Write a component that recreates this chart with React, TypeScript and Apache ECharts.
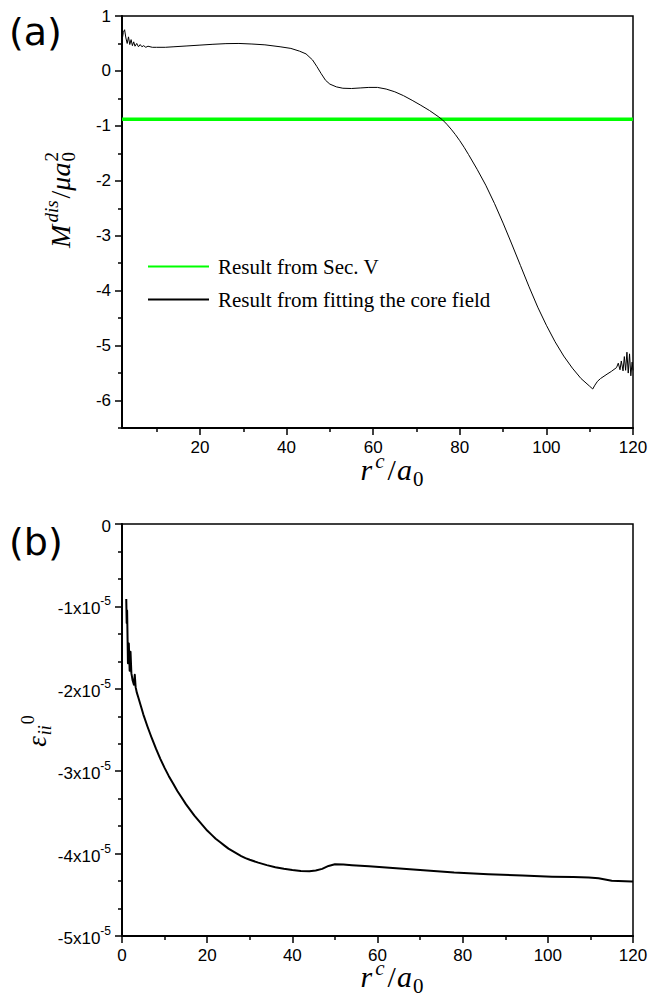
import React, { useEffect, useRef } from "react";
import * as echarts from "echarts";

// ---------- Panel (a): M^dis vs r^c ----------
const rA = [
  2.0, 2.3, 2.6, 2.9, 3.2, 3.5, 3.8, 4.1, 4.4, 4.7, 5.0, 5.4, 5.8, 6.2, 6.6, 7.0, 7.5, 8.0, 9, 10, 12, 14, 17,
  20, 23, 26, 29, 32, 35, 38.5, 41, 43, 44.5, 46, 47, 48, 49, 50, 51.5, 53, 55, 57, 59, 61, 63, 65, 67, 69,
  71, 73, 75, 76, 77, 78, 79, 80, 81, 82, 84, 86, 88, 90, 92, 94, 96, 98, 100, 102, 104, 106, 108,
  110, 110.7, 111.2, 111.8, 112.5, 114, 115, 116.2, 116.6, 117, 117.3, 117.7, 118, 118.3, 118.6, 118.9,
  119.2, 119.5, 119.8, 120,
];
const mDis = [
  0.55, 0.7, 0.75, 0.6, 0.5, 0.62, 0.48, 0.57, 0.46, 0.53, 0.45, 0.5, 0.44, 0.48, 0.44, 0.46, 0.43, 0.45, 0.43,
  0.43, 0.43, 0.44, 0.455, 0.47, 0.485, 0.497, 0.5, 0.49, 0.475, 0.44, 0.41, 0.36, 0.31, 0.2, 0.08, -0.05,
  -0.17, -0.24, -0.29, -0.315, -0.32, -0.31, -0.3, -0.3, -0.33, -0.38, -0.45, -0.535, -0.625, -0.72, -0.83,
  -0.89, -0.97, -1.06, -1.16, -1.27, -1.39, -1.52, -1.79, -2.08, -2.41, -2.77, -3.15, -3.54, -3.93, -4.3,
  -4.63, -4.93, -5.19, -5.41, -5.6, -5.74, -5.79, -5.72, -5.65, -5.6, -5.52, -5.47, -5.4, -5.32, -5.44,
  -5.28, -5.46, -5.2, -5.45, -5.12, -5.5, -5.15, -5.55, -5.3, -5.45,
];
const secVValue = -0.88;
const xRangeA = [2, 120];
const yRangeA = [-6.5, 1];
const xTicksA = [20, 40, 60, 80, 100, 120];
const xMinorA = [10, 30, 50, 70, 90, 110];
const yTicksA = [1, 0, -1, -2, -3, -4, -5, -6];
const yMinorA = [0.5, -0.5, -1.5, -2.5, -3.5, -4.5, -5.5, -6.5];
const legendNames = ["Result from Sec. V", "Result from fitting the core field"];

// ---------- Panel (b): eps_ii^0 vs r^c ----------
const rB = [
  1.0, 1.1, 1.2, 1.4, 1.6, 1.8, 2.0, 2.2, 2.5, 2.8, 3.0, 3.2, 3.5, 3.8, 4.5, 5, 6, 7, 8, 9, 10, 11, 12, 13, 14,
  15, 16, 17, 18, 19, 20, 21, 22, 23, 24, 25, 26, 27, 28, 29, 30, 32, 34, 36, 38, 40, 42, 44, 45.5, 47, 48.5,
  50, 52, 54, 58, 62, 66, 70, 78, 86, 94, 101, 106, 109.6, 111.9, 115, 119.7, 120,
];
const epsB = [
  -0.91e-5, -1.2e-5, -1.05e-5, -1.69e-5, -1.45e-5, -1.78e-5, -1.55e-5, -1.81e-5, -1.9e-5, -1.95e-5, -1.83e-5,
  -1.98e-5, -2.05e-5, -2.1e-5, -2.22e-5, -2.31e-5, -2.46e-5, -2.6e-5, -2.73e-5, -2.85e-5, -2.96e-5, -3.06e-5,
  -3.15e-5, -3.24e-5, -3.32e-5, -3.4e-5, -3.47e-5, -3.54e-5, -3.6e-5, -3.66e-5, -3.72e-5, -3.77e-5, -3.82e-5,
  -3.86e-5, -3.9e-5, -3.94e-5, -3.97e-5, -4.0e-5, -4.03e-5, -4.055e-5, -4.075e-5, -4.11e-5, -4.14e-5,
  -4.165e-5, -4.185e-5, -4.2e-5, -4.21e-5, -4.215e-5, -4.205e-5, -4.185e-5, -4.15e-5, -4.13e-5, -4.132e-5,
  -4.14e-5, -4.155e-5, -4.17e-5, -4.185e-5, -4.2e-5, -4.23e-5, -4.25e-5, -4.265e-5, -4.28e-5, -4.285e-5,
  -4.29e-5, -4.3e-5, -4.33e-5, -4.34e-5, -4.34e-5,
];
const xRangeB = [0, 120];
const yRangeB = [-5e-5, 0];
const xTicksB = [0, 20, 40, 60, 80, 100, 120];
const xMinorB = [10, 30, 50, 70, 90, 110];
const yTicksB = [0, -1e-5, -2e-5, -3e-5, -4e-5, -5e-5];

const LABEL_FONT = "Liberation Sans";
const MATH_FONT = "Liberation Serif";

type Piece = { t: string; size: number; italic?: boolean; dy?: number; stack?: boolean; gap?: number };

let ctx: CanvasRenderingContext2D | null = null;
function measure(t: string, size: number, italic?: boolean) {
  if (!ctx) ctx = document.createElement("canvas").getContext("2d");
  if (!ctx) return t.length * size * 0.5;
  ctx.font = `${italic ? "italic " : ""}${size}px "${MATH_FONT}"`;
  return ctx.measureText(t).width;
}

function mathRun(pieces: Piece[]) {
  const children: any[] = [];
  let x = 0;
  let prevStart = 0;
  for (const p of pieces) {
    const w = measure(p.t, p.size, p.italic);
    let px: number;
    if (p.stack) {
      px = prevStart;
      x = Math.max(x, px + w);
    } else {
      px = x + (p.gap || 0);
      x = px + w;
      prevStart = px;
    }
    children.push({
      type: "text",
      x: px,
      y: (p.dy || 0) - 0.35 * p.size,
      silent: true,
      style: {
        text: p.t,
        fontSize: p.size,
        fontFamily: MATH_FONT,
        fontStyle: p.italic ? "italic" : "normal",
        fill: "#000",
        align: "left",
        verticalAlign: "middle",
      },
    });
  }
  return { children, width: x };
}

function hTitle(pieces: Piece[], cx: number, baseline: number) {
  const r = mathRun(pieces);
  return { type: "group", x: cx - r.width / 2, y: baseline, children: r.children };
}
function vTitle(pieces: Piece[], baseX: number, cy: number) {
  const r = mathRun(pieces);
  return { type: "group", x: baseX, y: cy + r.width / 2, rotation: Math.PI / 2, children: r.children };
}

const rcPieces: Piece[] = [
  { t: "r", size: 30, italic: true },
  { t: "c", size: 21, italic: true, dy: -12, gap: 3 },
  { t: "/", size: 30, gap: 3 },
  { t: "a", size: 30, italic: true, gap: 1 },
  { t: "0", size: 21, dy: 6, gap: 1 },
];
const mPieces: Piece[] = [
  { t: "M", size: 28, italic: true },
  { t: "dis", size: 19, italic: true, dy: -12, gap: 2 },
  { t: "/", size: 28, gap: 2 },
  { t: "μ", size: 28, italic: true },
  { t: "a", size: 28, italic: true },
  { t: "0", size: 19, dy: 5, gap: 1 },
  { t: "2", size: 19, dy: -12, stack: true },
];
const epsPieces: Piece[] = [
  { t: "ε", size: 27, italic: true },
  { t: "ii", size: 18, italic: true, dy: 5, gap: 1 },
  { t: "0", size: 18, dy: -12, gap: 1 },
];

const axisLineStyle = { color: "#000", width: 2 };
const tickLineStyle = { color: "#000", width: 1.5 };
const labelStyle = { color: "#000", fontSize: 17, fontFamily: LABEL_FONT };

function mainAxis(gridIndex: number, range: number[], ticks: number[], isX: boolean, extraLabel: any = {}) {
  return {
    type: "value",
    gridIndex,
    min: range[0],
    max: range[1],
    position: isX ? "bottom" : "left",
    axisLine: { show: true, onZero: false, lineStyle: axisLineStyle },
    axisTick: { show: true, inside: false, length: 7, customValues: ticks, lineStyle: tickLineStyle },
    axisLabel: { show: true, customValues: ticks, margin: isX ? 11 : 11, ...labelStyle, ...extraLabel },
    splitLine: { show: false },
  };
}
function minorAxis(gridIndex: number, range: number[], ticks: number[], isX: boolean) {
  return {
    type: "value",
    gridIndex,
    min: range[0],
    max: range[1],
    position: isX ? "bottom" : "left",
    axisLine: { show: false, onZero: false },
    axisTick: { show: true, inside: false, length: 4, customValues: ticks, lineStyle: tickLineStyle },
    axisLabel: { show: false },
    splitLine: { show: false },
  };
}

const yMinorB: number[] = [];
for (let i = 0; i < yTicksB.length - 1; i++) {
  const a = yTicksB[i];
  const b = yTicksB[i + 1];
  yMinorB.push(a + (b - a) / 3, a + (2 * (b - a)) / 3);
}

export default function App() {
  const ref = useRef<HTMLDivElement>(null);
  useEffect(() => {
    document.body.style.margin = "0";
    if (!ref.current) return;
    const chart = echarts.init(ref.current, undefined, { renderer: "svg" });
    const gridA = { left: 122, top: 16, width: 511, height: 412 };
    const gridB = { left: 122, top: 524, width: 511, height: 412 };
    const gridCommon = { show: true, borderColor: "#000", borderWidth: 1.5, backgroundColor: "transparent", containLabel: false, outerBoundsMode: "none" };
    const option: any = {
      animation: false,
      backgroundColor: "#fff",
      grid: [
        { ...gridCommon, ...gridA },
        { ...gridCommon, ...gridB },
      ],
      xAxis: [
        mainAxis(0, xRangeA, xTicksA, true),
        minorAxis(0, xRangeA, xMinorA, true),
        mainAxis(1, xRangeB, xTicksB, true),
        minorAxis(1, xRangeB, xMinorB, true),
      ],
      yAxis: [
        mainAxis(0, yRangeA, yTicksA, false),
        minorAxis(0, yRangeA, yMinorA, false),
        mainAxis(1, yRangeB, yTicksB, false, {
          formatter: (v: number) => {
            const n = Math.round(v * 1e5);
            return n === 0 ? "{m|0}" : `{m|${n}x10}{s|-5}`;
          },
          rich: {
            m: { fontSize: 17, fontFamily: LABEL_FONT, color: "#000", lineHeight: 22, verticalAlign: "bottom" },
            s: { fontSize: 12, fontFamily: LABEL_FONT, color: "#000", lineHeight: 12, verticalAlign: "top" },
          },
        }),
        minorAxis(1, yRangeB, yMinorB, false),
      ],
      legend: {
        show: true,
        data: legendNames,
        orient: "vertical",
        left: 147,
        top: 256,
        padding: 0,
        itemWidth: 61,
        itemHeight: 14,
        itemGap: 12,
        selectedMode: false,
        itemStyle: { opacity: 0 },
        textStyle: { fontFamily: MATH_FONT, fontSize: 21, color: "#000", lineHeight: 21, padding: [0, 0, 0, 4] },
      },
      series: [
        {
          name: legendNames[0],
          type: "line",
          xAxisIndex: 0,
          yAxisIndex: 0,
          symbol: "none",
          silent: true,
          data: xRangeA.map((x) => [x, secVValue]),
          lineStyle: { color: "#00ff00", width: 3.5 },
          itemStyle: { color: "#00ff00" },
        },
        {
          name: legendNames[1],
          type: "line",
          xAxisIndex: 0,
          yAxisIndex: 0,
          symbol: "none",
          silent: true,
          data: rA.map((x, i) => [x, mDis[i]]),
          lineStyle: { color: "#000", width: 1, join: "round" },
          itemStyle: { color: "#000" },
        },
        {
          name: "strain",
          type: "line",
          xAxisIndex: 2,
          yAxisIndex: 2,
          symbol: "none",
          silent: true,
          data: rB.map((x, i) => [x, epsB[i]]),
          lineStyle: { color: "#000", width: 2, join: "round" },
          itemStyle: { color: "#000" },
        },
      ],
      graphic: [
        { type: "text", x: 9, y: 32, silent: true, style: { text: "(a)", fontSize: 38, fontFamily: "DejaVu Sans", fill: "#000", verticalAlign: "middle" } },
        { type: "text", x: 9, y: 542, silent: true, style: { text: "(b)", fontSize: 38, fontFamily: "DejaVu Sans", fill: "#000", verticalAlign: "middle" } },
        hTitle(rcPieces, 392, 480),
        hTitle(rcPieces, 392, 987),
        vTitle(mPieces, 70, 200),
        vTitle(epsPieces, 46, 731),
      ],
    };
    chart.setOption(option);
    return () => chart.dispose();
  }, []);
  return <div ref={ref} style={{ width: 648, height: 998 }} />;
}
